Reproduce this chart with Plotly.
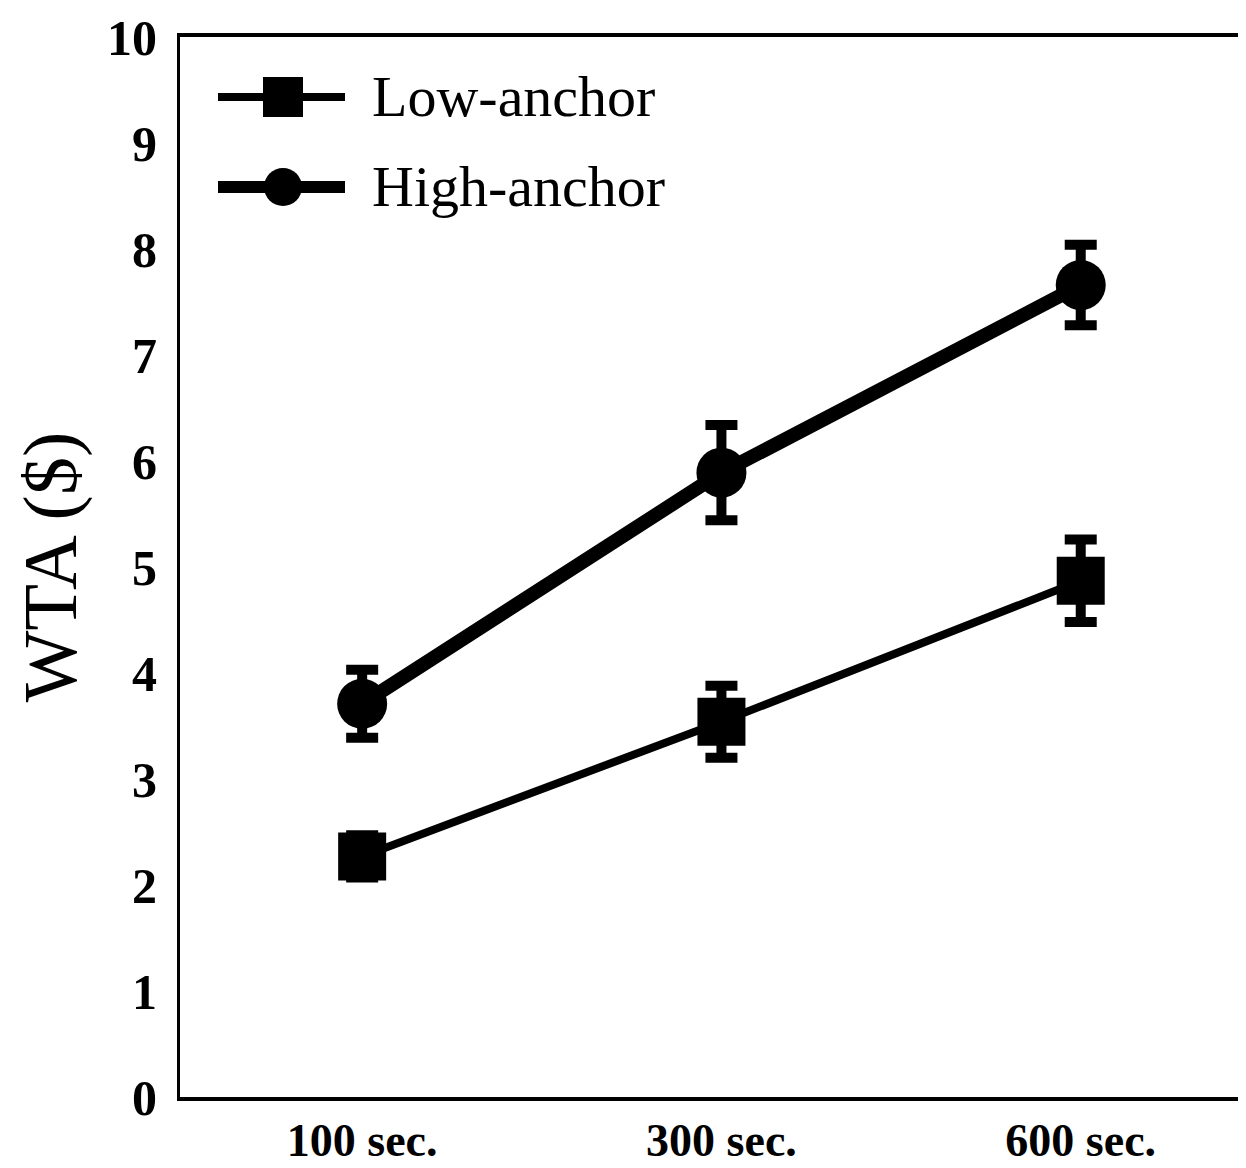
import plotly.graph_objects as go

# ---- data ----
categories = ["100 sec.", "300 sec.", "600 sec."]
low_anchor = [2.27, 3.54, 4.87]
low_err = [0.2, 0.34, 0.39]
high_anchor = [3.71, 5.89, 7.66]
high_err = [0.32, 0.45, 0.38]
y_ticks = list(range(0, 11))
series_names = ["Low-anchor", "High-anchor"]

OFF = 8  # page body margin
W, H = 1246 - OFF, 1168 - OFF
L, R, T = 180 - OFF, 0, 37 - OFF
B = H - (1097 - OFF)
PW, PH = W - L - R, H - T - B

def px(x):  # page pixel -> paper
    return (x - OFF - L) / PW

def py(y):
    return (H - B - (y - OFF)) / PH

fig = go.Figure()
fig.add_trace(go.Scatter(
    x=categories, y=low_anchor, name=series_names[0], mode="lines+markers",
    line=dict(color="black", width=8),
    marker=dict(symbol="square", size=48, color="black"),
    error_y=dict(type="data", array=low_err, color="black", thickness=10, width=16),
    showlegend=False,
))
fig.add_trace(go.Scatter(
    x=categories, y=high_anchor, name=series_names[1], mode="lines+markers",
    line=dict(color="black", width=14),
    marker=dict(symbol="circle", size=50, color="black"),
    error_y=dict(type="data", array=high_err, color="black", thickness=10, width=16),
    showlegend=False,
))

# manual legend (glyphs drawn larger than plotly's legend allows)
shapes = []
legend_rows = [(97, "square", 8, 40), (187, "circle", 12, 38)]
for (cy, sym, lw, ms) in legend_rows:
    shapes.append(dict(type="line", xref="paper", yref="paper",
                       x0=px(218), x1=px(345), y0=py(cy), y1=py(cy),
                       line=dict(color="black", width=lw)))
    shapes.append(dict(type="rect" if sym == "square" else "circle",
                       xref="paper", yref="paper",
                       x0=px(283 - ms / 2), x1=px(283 + ms / 2),
                       y0=py(cy - ms / 2), y1=py(cy + ms / 2),
                       fillcolor="black", line=dict(color="black", width=0)))
annotations = []
for (cy, _, _, _), name in zip(legend_rows, series_names):
    annotations.append(dict(text=name, xref="paper", yref="paper",
                            x=px(370), y=py(cy), xanchor="left", yanchor="middle",
                            showarrow=False,
                            font=dict(family="Liberation Serif", size=58, color="black")))

fig.update_layout(
    width=W, height=H,
    margin=dict(l=L, r=R, t=T, b=B, autoexpand=False),
    plot_bgcolor="white", paper_bgcolor="white",
    shapes=shapes, annotations=annotations,
    showlegend=False,
    xaxis=dict(
        type="category", range=[-0.507, 2.46],
        showgrid=False, zeroline=False,
        showline=True, linecolor="black", linewidth=4, mirror=True,
        ticks="", ticklabelstandoff=0,
        tickfont=dict(family="Liberation Serif", size=46, color="black", weight="bold"),
    ),
    yaxis=dict(
        range=[0, 10], tickvals=y_ticks,
        showgrid=False, zeroline=False,
        showline=True, linecolor="black", linewidth=3,
        ticks="", ticklabelstandoff=10,
        tickfont=dict(family="Liberation Serif", size=50, color="black", weight="bold"),
        title=dict(text="WTA ($)", standoff=54,
                   font=dict(family="Liberation Serif", size=76, color="black")),
    ),
)

fig.write_html("out.html")
